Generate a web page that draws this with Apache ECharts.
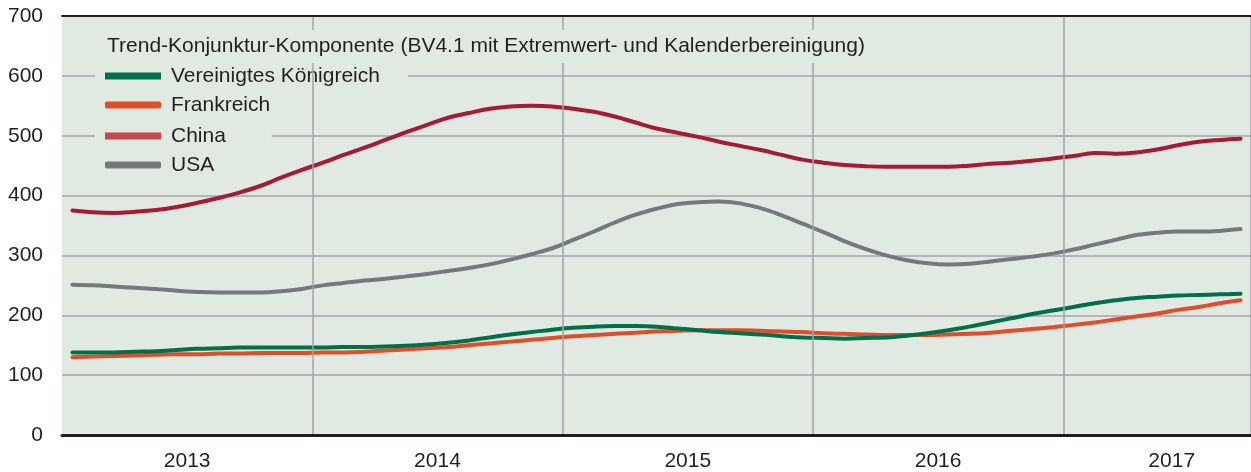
<!DOCTYPE html>
<html>
<head>
<meta charset="utf-8">
<script src="https://cdn.jsdelivr.net/npm/echarts@6/dist/echarts.min.js"></script>
<style>
  html, body { margin: 0; padding: 0; background: #ffffff; }
  #chart { width: 1251px; height: 472px; }
</style>
</head>
<body>
<div id="chart"></div>
<script>
// Monthly values, January 2013 to September 2017
const startYear = 2013;
const monthCount = 57;

const ukValues = [
  138, 138, 138, 139, 140, 142, 144, 145, 146, 146, 146, 146,
  146, 147, 147, 148, 149, 151, 154, 158, 163, 168, 172, 176,
  179, 181, 182, 182, 181, 178, 175, 172, 170, 168, 165, 163,
  162, 161, 162, 163, 166, 170, 175, 181, 188, 195, 202, 208,
  214, 220, 225, 229, 231, 233, 234, 235, 236
];
const frValues = [
  130, 131, 132, 133, 134, 135, 135, 136, 136, 137, 137, 137,
  138, 138, 139, 141, 143, 145, 147, 150, 153, 156, 159, 162,
  165, 167, 169, 171, 173, 174, 175, 175, 175, 174, 173, 172,
  170, 169, 168, 167, 167, 167, 168, 169, 171, 174, 177, 180,
  184, 188, 193, 198, 203, 209, 214, 220, 225
];
const cnValues = [
  375, 372, 371, 373, 376, 381, 388, 396, 405, 416, 430, 443,
  455, 468, 480, 493, 506, 518, 530, 538, 545, 549, 550, 549,
  545, 540, 532, 522, 512, 505, 498, 490, 483, 476, 468, 460,
  455, 451, 449, 448, 448, 448, 448, 450, 453, 455, 458, 462,
  466, 471, 470, 472, 477, 484, 490, 493, 495
];
const usValues = [
  251, 250, 248, 246, 244, 241, 239, 238, 238, 238, 240, 244,
  250, 254, 258, 261, 265, 269, 274, 279, 285, 293, 302, 312,
  326, 340, 355, 368, 378, 386, 389, 390, 387, 379, 367, 353,
  339, 324, 311, 300, 292, 287, 285, 286, 290, 294, 298, 303,
  310, 318, 326, 334, 338, 340, 340, 341, 344
];

const seriesNames = ['Vereinigtes Königreich', 'Frankreich', 'China', 'USA'];
const legendTitle = 'Trend-Konjunktur-Komponente (BV4.1 mit Extremwert- und Kalenderbereinigung)';

// Year labels and where they sit, in months from the start of the axis
const yearLabels = ['2013', '2014', '2015', '2016', '2017'];
const yearLabelPos = [6, 18, 30, 42, 53.2];

const months = [];
for (let i = 0; i < monthCount; i++) {
  const y = startYear + Math.floor(i / 12);
  const m = (i % 12) + 1;
  months.push(y + '-' + (m < 10 ? '0' + m : m));
}

const plotBg = '#e0eae2';
const gridGrey = '#a3a5a8';
const textColor = '#231f20';
const fontFamily = '"Liberation Sans", Arial, Helvetica, sans-serif';
const fontSize = 21;

const colors = {
  uk: '#006f4b',
  fr: '#e04e28',
  cn: '#a81a31',
  cnLegend: '#c8464f',
  us: '#77787b'
};

// Each legend row sits on its own plot-coloured box that knocks out the grid behind it
function legendBox(name, top, color, icon, padRight) {
  return {
    show: true,
    left: 95,
    top: top,
    orient: 'horizontal',
    data: [{ name: name, icon: icon, itemStyle: { color: color } }],
    itemWidth: 56,
    itemHeight: 7,
    padding: [2, padRight, 2, 10],
    backgroundColor: plotBg,
    selectedMode: false,
    textStyle: {
      fontFamily: fontFamily,
      fontSize: fontSize,
      lineHeight: 22,
      color: textColor,
      padding: [0, 0, 0, 5]
    }
  };
}

function lineSeries(name, data, color) {
  return {
    name: name,
    type: 'line',
    xAxisIndex: 0,
    yAxisIndex: 0,
    data: data,
    smooth: 0.4,
    showSymbol: false,
    symbol: 'none',
    lineStyle: { color: color, width: 4, cap: 'round', join: 'round' },
    itemStyle: { color: color },
    emphasis: { disabled: true },
    z: 3
  };
}

const chart = echarts.init(document.getElementById('chart'), null, { renderer: 'canvas' });

chart.setOption({
  animation: false,
  backgroundColor: '#ffffff',
  textStyle: { fontFamily: fontFamily },
  title: {
    text: legendTitle,
    left: 95,
    top: 30,
    padding: [5, 8, 5, 12],
    backgroundColor: plotBg,
    textStyle: {
      fontFamily: fontFamily,
      fontSize: fontSize,
      lineHeight: 23,
      fontWeight: 'normal',
      color: textColor
    }
  },
  legend: [
    legendBox(seriesNames[0], 63, colors.uk, 'rect', 28),
    legendBox(seriesNames[1], 92, colors.fr, 'roundRect', 20),
    legendBox(seriesNames[2], 123, colors.cnLegend, 'rect', 46),
    legendBox(seriesNames[3], 152, colors.us, 'roundRect', 20)
  ],
  grid: {
    left: 62,
    right: 0,
    top: 16,
    bottom: 36,
    show: true,
    backgroundColor: plotBg,
    borderWidth: 0,
    containLabel: false
  },
  xAxis: [
    {
      type: 'category',
      data: months,
      boundaryGap: true,
      position: 'bottom',
      axisLine: { show: true, lineStyle: { color: textColor, width: 3 } },
      axisTick: { show: false },
      axisLabel: { show: false },
      splitLine: {
        show: true,
        interval: function (index) { return index > 0 && index % 12 === 0; },
        lineStyle: { color: gridGrey, width: 1.5 }
      },
      z: 5
    },
    {
      type: 'value',
      min: 0,
      max: monthCount,
      position: 'bottom',
      axisLine: { show: false },
      axisTick: { show: false },
      splitLine: { show: false },
      axisLabel: {
        show: true,
        customValues: yearLabelPos,
        formatter: function (v) {
          const k = yearLabelPos.indexOf(v);
          return k >= 0 ? yearLabels[k] : '';
        },
        margin: 16,
        fontSize: fontSize,
        color: textColor,
        fontFamily: fontFamily
      }
    },
    {
      type: 'value',
      min: 0,
      max: monthCount,
      position: 'top',
      axisLine: { show: true, onZero: false, lineStyle: { color: textColor, width: 2 } },
      axisTick: { show: false },
      axisLabel: { show: false },
      splitLine: { show: false },
      z: 5
    }
  ],
  yAxis: {
    type: 'value',
    min: 0,
    max: 700,
    interval: 100,
    axisLine: { show: false },
    axisTick: { show: false },
    axisLabel: {
      margin: 19,
      fontSize: fontSize,
      color: textColor,
      fontFamily: fontFamily
    },
    splitLine: { show: true, lineStyle: { color: gridGrey, width: 1.5 } }
  },
  series: [
    lineSeries(seriesNames[3], usValues, colors.us),
    lineSeries(seriesNames[2], cnValues, colors.cn),
    lineSeries(seriesNames[1], frValues, colors.fr),
    lineSeries(seriesNames[0], ukValues, colors.uk)
  ]
});
</script>
</body>
</html>
